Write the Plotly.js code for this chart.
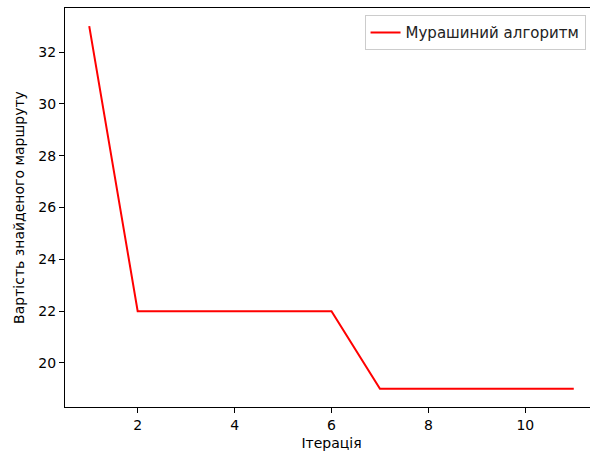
<!DOCTYPE html>
<html>
<head>
<meta charset="utf-8">
<script src="https://cdn.plot.ly/plotly-3.0.1.min.js"></script>
<style>html,body{margin:0;padding:0;overflow:hidden;background:#fff;}</style>
</head>
<body>
<div id="chart"></div>
<script>
const iterations = [1, 2, 3, 4, 5, 6, 7, 8, 9, 10, 11];
const costs = [33, 22, 22, 22, 22, 22, 19, 19, 19, 19, 19];
const seriesName = 'Мурашиний алгоритм';
const xTitle = 'Ітерація';
const yTitle = 'Вартість знайденого маршруту';

const font = {family: 'DejaVu Sans', size: 14, color: '#000'};
Plotly.newPlot('chart', [{
  x: iterations, y: costs, type: 'scatter', mode: 'lines',
  name: seriesName, line: {color: 'red', width: 2}
}], {
  width: 600, height: 455,
  margin: {l: 65, r: 2, t: 8, b: 48},
  paper_bgcolor: '#fff', plot_bgcolor: '#fff',
  font: font,
  showlegend: true,
  legend: {x: 0.562, y: 0.982, xanchor: 'left', yanchor: 'top',
    bordercolor: '#ccc', borderwidth: 1, bgcolor: 'rgba(255,255,255,0.8)',
    font: {family: 'DejaVu Sans', size: 15, color: '#222'}},
  xaxis: {range: [0.5, 11.5], tickvals: [2, 4, 6, 8, 10], showgrid: false, zeroline: false,
    showline: true, mirror: true, linecolor: '#000', linewidth: 1,
    ticks: 'outside', ticklen: 5, tickcolor: '#000',
    title: {text: xTitle, font: font, standoff: 6}},
  yaxis: {range: [18.3, 33.7], tickvals: [20, 22, 24, 26, 28, 30, 32], showgrid: false, zeroline: false,
    showline: true, mirror: true, linecolor: '#000', linewidth: 1,
    ticks: 'outside', ticklen: 5, tickcolor: '#000',
    title: {text: yTitle, font: font, standoff: 10}}
}, {displayModeBar: false, staticPlot: true});
</script>
</body>
</html>
